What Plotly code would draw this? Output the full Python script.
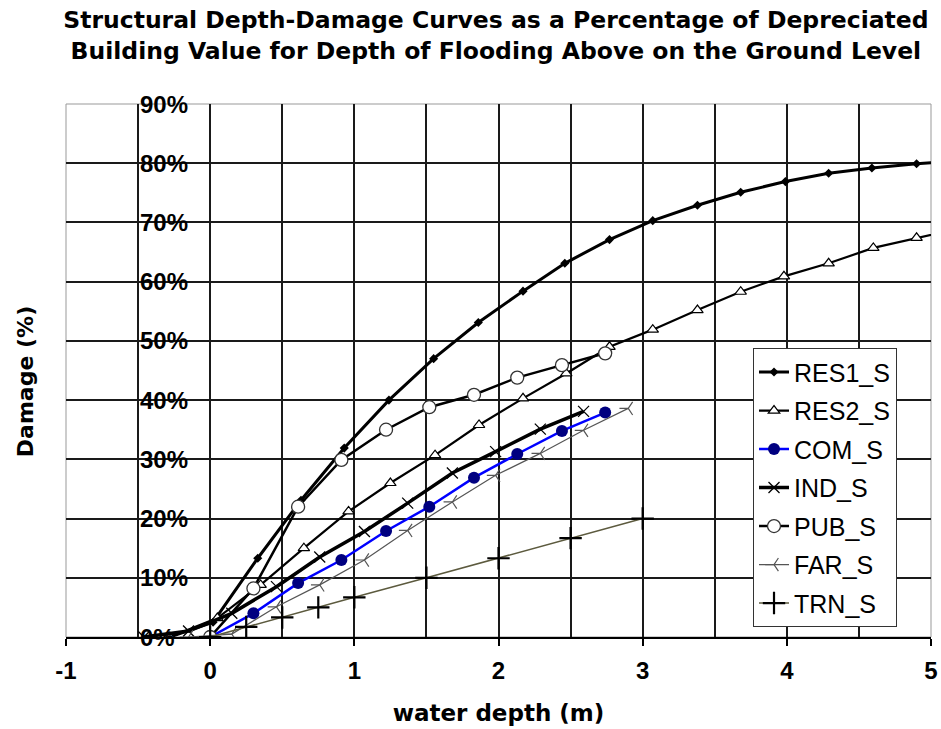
import plotly.graph_objects as go

# ---- data (water depth in m, damage in %) ----
res1_x = [-0.28, 0.02, 0.33, 0.63, 0.93, 1.24, 1.55, 1.86, 2.17, 2.46, 2.77, 3.07, 3.38, 3.68, 3.99, 4.29, 4.59, 4.90, 5.20]
res1_y = [0, 2.5, 13.3, 23.1, 31.9, 40.0, 47.0, 53.1, 58.4, 63.1, 67.1, 70.3, 72.9, 75.1, 76.9, 78.3, 79.2, 79.9, 80.4]

res2_x = [-0.28, 0.05, 0.35, 0.65, 0.96, 1.25, 1.56, 1.865, 2.17, 2.47, 2.77, 3.07, 3.38, 3.68, 3.98, 4.29, 4.60, 4.90, 5.20]
res2_y = [0, 3.2, 8.8, 15.0, 21.2, 26.0, 30.7, 35.8, 40.3, 44.5, 49.0, 51.9, 55.2, 58.3, 60.9, 63.1, 65.7, 67.4, 69.0]

com_x = [0, 0.30, 0.61, 0.91, 1.22, 1.52, 1.83, 2.13, 2.44, 2.74]
com_y = [0, 4.0, 9.1, 13.0, 17.9, 22.0, 26.9, 30.9, 34.8, 37.9]

ind_x = [-0.46, -0.15, 0.15, 0.46, 0.76, 1.07, 1.37, 1.68, 1.98, 2.29, 2.59]
ind_y = [0, 1.0, 4.0, 8.5, 13.5, 17.8, 22.6, 27.7, 31.3, 35.1, 38.1]

pub_x = [0, 0.30, 0.61, 0.91, 1.22, 1.52, 1.83, 2.13, 2.44, 2.74]
pub_y = [0, 8.2, 22.0, 29.9, 35.0, 38.8, 40.9, 43.8, 45.9, 47.9]

far_x = [-0.15, 0.15, 0.46, 0.76, 1.07, 1.37, 1.68, 1.98, 2.29, 2.59, 2.90]
far_y = [0, 0.5, 5.1, 8.8, 13.0, 18.0, 22.8, 27.3, 31.0, 34.9, 38.6]

trn_x = [0, 0.25, 0.5, 0.75, 1.0, 1.5, 2.0, 2.5, 3.0]
trn_y = [0, 1.7, 3.3, 5.0, 6.7, 10.0, 13.3, 16.7, 20.0]

series_names = ["RES1_S", "RES2_S", "COM_S", "IND_S", "PUB_S", "FAR_S", "TRN_S"]
x_ticks = [-1, 0, 1, 2, 3, 4, 5]
x_tick_labels = ["-1", "0", "1", "2", "3", "4", "5"]
y_ticks = [0, 10, 20, 30, 40, 50, 60, 70, 80, 90]
y_tick_labels = ["0%", "10%", "20%", "30%", "40%", "50%", "60%", "70%", "80%", "90%"]
y_label_x = -0.5  # the vertical axis crosses the horizontal axis here

fig = go.Figure()

fig.add_trace(go.Scatter(x=res1_x, y=res1_y, name=series_names[0], mode="lines+markers",
                         line=dict(color="black", width=3),
                         marker=dict(symbol="diamond", size=7, color="black"),
                         legendgroup="a"))
fig.add_trace(go.Scatter(x=res2_x, y=res2_y, name=series_names[1], mode="lines+markers",
                         line=dict(color="black", width=2.2),
                         marker=dict(symbol="triangle-up", size=10, color="white",
                                     line=dict(color="black", width=1.2)),
                         legendgroup="b"))
fig.add_trace(go.Scatter(x=com_x, y=com_y, name=series_names[2], mode="lines+markers",
                         line=dict(color="#0000ff", width=2.5),
                         marker=dict(symbol="circle", size=12, color="#000080"),
                         legendgroup="c"))
fig.add_trace(go.Scatter(x=ind_x, y=ind_y, name=series_names[3], mode="lines+markers",
                         line=dict(color="black", width=3.5),
                         marker=dict(symbol="x-thin", size=11, color="black",
                                     line=dict(color="black", width=1.3)),
                         legendgroup="d"))
fig.add_trace(go.Scatter(x=pub_x, y=pub_y, name=series_names[4], mode="lines+markers",
                         line=dict(color="black", width=2.5),
                         marker=dict(symbol="circle", size=13, color="white",
                                     line=dict(color="#333333", width=1.3)),
                         legendgroup="e"))
fig.add_trace(go.Scatter(x=far_x, y=far_y, name=series_names[5], mode="lines+markers",
                         line=dict(color="#555555", width=1.2),
                         marker=dict(symbol="y-left", size=11, color="#555555",
                                     line=dict(color="#555555", width=1.2)),
                         legendgroup="f"))
fig.add_trace(go.Scatter(x=trn_x, y=trn_y, name=series_names[6], mode="lines+markers",
                         line=dict(color="#5c5a3e", width=1.5),
                         marker=dict(symbol="cross-thin", size=16, color="black",
                                     line=dict(color="black", width=2.2)),
                         legendgroup="g"))

tick_font = dict(family="Liberation Sans", size=24, color="black", weight="bold")

annotations = [dict(text=lab, x=y_label_x, y=v, xref="x", yref="y",
                    xanchor="left", yanchor="middle", showarrow=False,
                    font=tick_font)
               for v, lab in zip(y_ticks, y_tick_labels)]
annotations.append(dict(text="Damage (%)", textangle=-90, xref="paper", yref="paper",
                        x=-0.0474, y=0.48, xanchor="center", yanchor="middle", showarrow=False,
                        font=dict(family="DejaVu Sans", size=22, color="black",
                                  weight="bold")))

fig.update_layout(
    width=941, height=729,
    margin=dict(l=66, r=10, t=104, b=92, autoexpand=False),
    paper_bgcolor="white", plot_bgcolor="white",
    title=dict(
        text="Structural Depth-Damage Curves as a Percentage of Depreciated<br>"
             "Building Value for Depth of Flooding Above on the Ground Level",
        font=dict(family="DejaVu Sans", size=23.5, color="black", weight="bold"),
        x=0.497, xanchor="center", xref="paper",
        y=0.961, yanchor="top", yref="container", automargin=False),
    xaxis=dict(range=[-1, 5], tickvals=x_ticks, ticktext=x_tick_labels,
               ticks="outside", ticklen=7, tickcolor="black",
               tickwidth=1.5, automargin=False, ticklabelstandoff=4,
               showgrid=True, gridcolor="#1a1a1a", gridwidth=1.5,
               minor=dict(dtick=0.5, showgrid=True, gridcolor="#1a1a1a", gridwidth=1.5),
               zeroline=False, showline=True, linecolor="black", linewidth=2,
               tickfont=tick_font,
               title=dict(text="water depth (m)", standoff=22,
                          font=dict(family="DejaVu Sans", size=23, color="black",
                                    weight="bold"))),
    yaxis=dict(range=[0, 90], tickvals=y_ticks, showticklabels=False, ticks="",
               automargin=False,
               showgrid=True, gridcolor="#1a1a1a", gridwidth=1.5,
               zeroline=False, showline=False),
    showlegend=True,
    legend=dict(x=0.794, y=0.542, xanchor="left", yanchor="top",
                bgcolor="white", bordercolor="#333333", borderwidth=1.2,
                font=dict(family="Liberation Sans", size=25, color="black"),
                itemwidth=30, tracegroupgap=3, traceorder="grouped"),
    annotations=annotations,
    shapes=[dict(type="rect", xref="paper", yref="paper", x0=0, y0=0, x1=1, y1=1,
                 line=dict(color="#999999", width=1), layer="below")],
)

fig.write_html("out.html", config={"displayModeBar": False},
               post_script="document.body.style.margin='0';")
